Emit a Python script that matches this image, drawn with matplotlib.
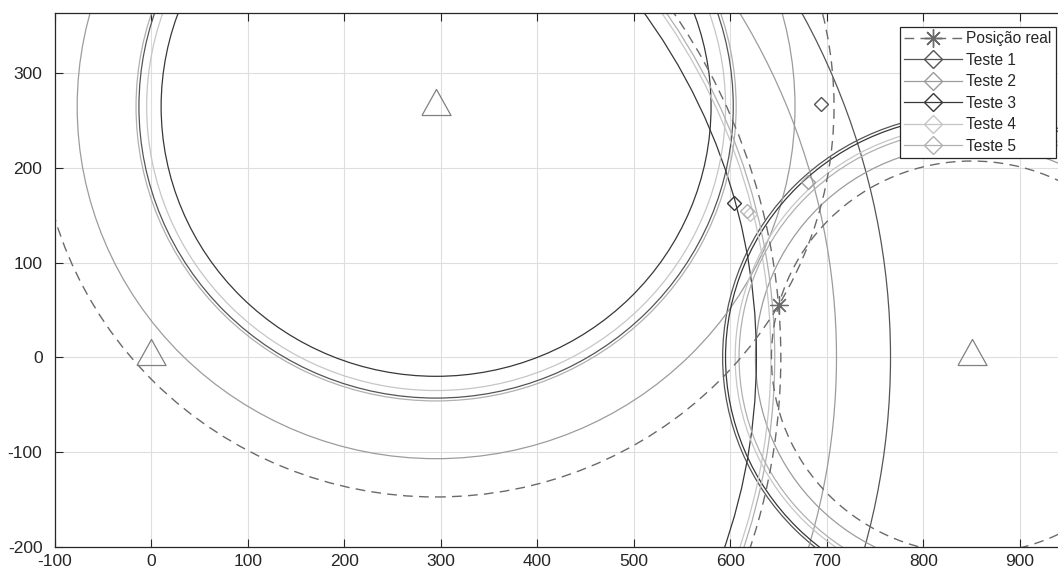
import matplotlib
matplotlib.use("Agg")
import matplotlib.pyplot as plt
from matplotlib.patches import Circle
from matplotlib.lines import Line2D

plt.rcParams['font.family'] = ['Liberation Sans', 'DejaVu Sans']
plt.rcParams['axes.unicode_minus'] = False

# Anchor (beacon) positions
anchor_x = [0, 295, 850]
anchor_y = [0, 265, 0]

# True position of the receiver
real_x = 650
real_y = 55

# Tests: measured ranges to each anchor and estimated positions
test_names = ['Teste 1', 'Teste 2', 'Teste 3', 'Teste 4', 'Teste 5']
test_colors = ['#555555', '#9c9c9c', '#383838', '#c6c6c6', '#b0b0b0']
range_a0 = [766, 710, 627, 642, 646]
range_a1 = [308, 372, 285, 300, 311]
range_a2 = [258, 224, 255, 245, 241]
est_x = [694, 680, 604, 620, 617]
est_y = [268, 185, 163, 152, 155]

xticks = [-100, 0, 100, 200, 300, 400, 500, 600, 700, 800, 900]
yticks = [-200, -100, 0, 100, 200, 300]

# Triangle marker whose origin sits a little below the middle
tri_marker = [(-14.5, -8), (14.5, -8), (0, 18), (-14.5, -8)]

fig = plt.figure(figsize=(10.58, 5.76), dpi=100)
ax = fig.add_axes([55 / 1058, 29.3 / 576, 1014 / 1058, 533.4 / 576])
ax.set_xlim(-100, 951)
ax.set_ylim(-200, 363.5)

grid_c = '#dedede'
ax.set_xticks(xticks)
ax.set_yticks(yticks)
ax.set_xticklabels([str(v) for v in xticks])
ax.set_yticklabels([str(v) for v in yticks])
ax.grid(True, color=grid_c, linewidth=0.8)
ax.set_axisbelow(True)
ax.tick_params(direction='in', length=6, width=0.8, color='#262626',
               labelsize=12.5, labelcolor='#262626', top=True, right=True)
ax.tick_params(axis='x', pad=5)
ax.tick_params(axis='y', pad=9)
for s in ax.spines.values():
    s.set_color('#262626')
    s.set_linewidth(0.9)

# Range circles for every test
ranges = [range_a0, range_a1, range_a2]
for t, color in enumerate(test_colors):
    for a in range(len(anchor_x)):
        ax.add_patch(Circle((anchor_x[a], anchor_y[a]), ranges[a][t], fill=False,
                            edgecolor=color, linewidth=0.9, zorder=2))

# True ranges from each anchor to the real position
dash_c = '#6a6a6a'
for a in range(len(anchor_x)):
    d = ((real_x - anchor_x[a]) ** 2 + (real_y - anchor_y[a]) ** 2) ** 0.5
    ax.add_patch(Circle((anchor_x[a], anchor_y[a]), d, fill=False, edgecolor=dash_c,
                        linewidth=1.0, linestyle=(0, (7, 4.5)), zorder=2))

# Anchors
ax.plot(anchor_x, anchor_y, linestyle='none', marker=tri_marker, markersize=26,
        markerfacecolor='none', markeredgecolor='#808080', markeredgewidth=0.9, zorder=3)

# Real position
ax.plot([real_x], [real_y], linestyle='none', marker=(8, 2, 0), markersize=13,
        markeredgecolor='#6a6a6a', markeredgewidth=0.9, zorder=4)

# Estimated positions
for t, color in enumerate(test_colors):
    ax.plot([est_x[t]], [est_y[t]], linestyle='none', marker='D', markersize=7.5,
            markerfacecolor='none', markeredgecolor=color, markeredgewidth=1.0, zorder=4)

handles = [Line2D([], [], color=dash_c, linewidth=1.0, linestyle=(0, (7, 4.5)),
                  marker=(8, 2, 0), markersize=13, markeredgecolor=dash_c)]
for t, color in enumerate(test_colors):
    handles.append(Line2D([], [], color=color, linewidth=0.9, marker='D', markersize=9,
                          markerfacecolor='none', markeredgecolor=color, markeredgewidth=1.0))
labels = ['Posição real'] + test_names
leg = ax.legend(handles, labels, loc='upper right',
                bbox_to_anchor=(1056 / 1058, 1 - 26.7 / 576), bbox_transform=fig.transFigure,
                borderaxespad=0, fontsize=11.2, handlelength=3.7, handletextpad=0.3,
                labelspacing=0.42, borderpad=0.28, fancybox=False, framealpha=1,
                edgecolor='#262626')
leg.get_frame().set_linewidth(0.9)
for txt in leg.get_texts():
    txt.set_color('#262626')

fig.savefig('out.png', dpi=100)
